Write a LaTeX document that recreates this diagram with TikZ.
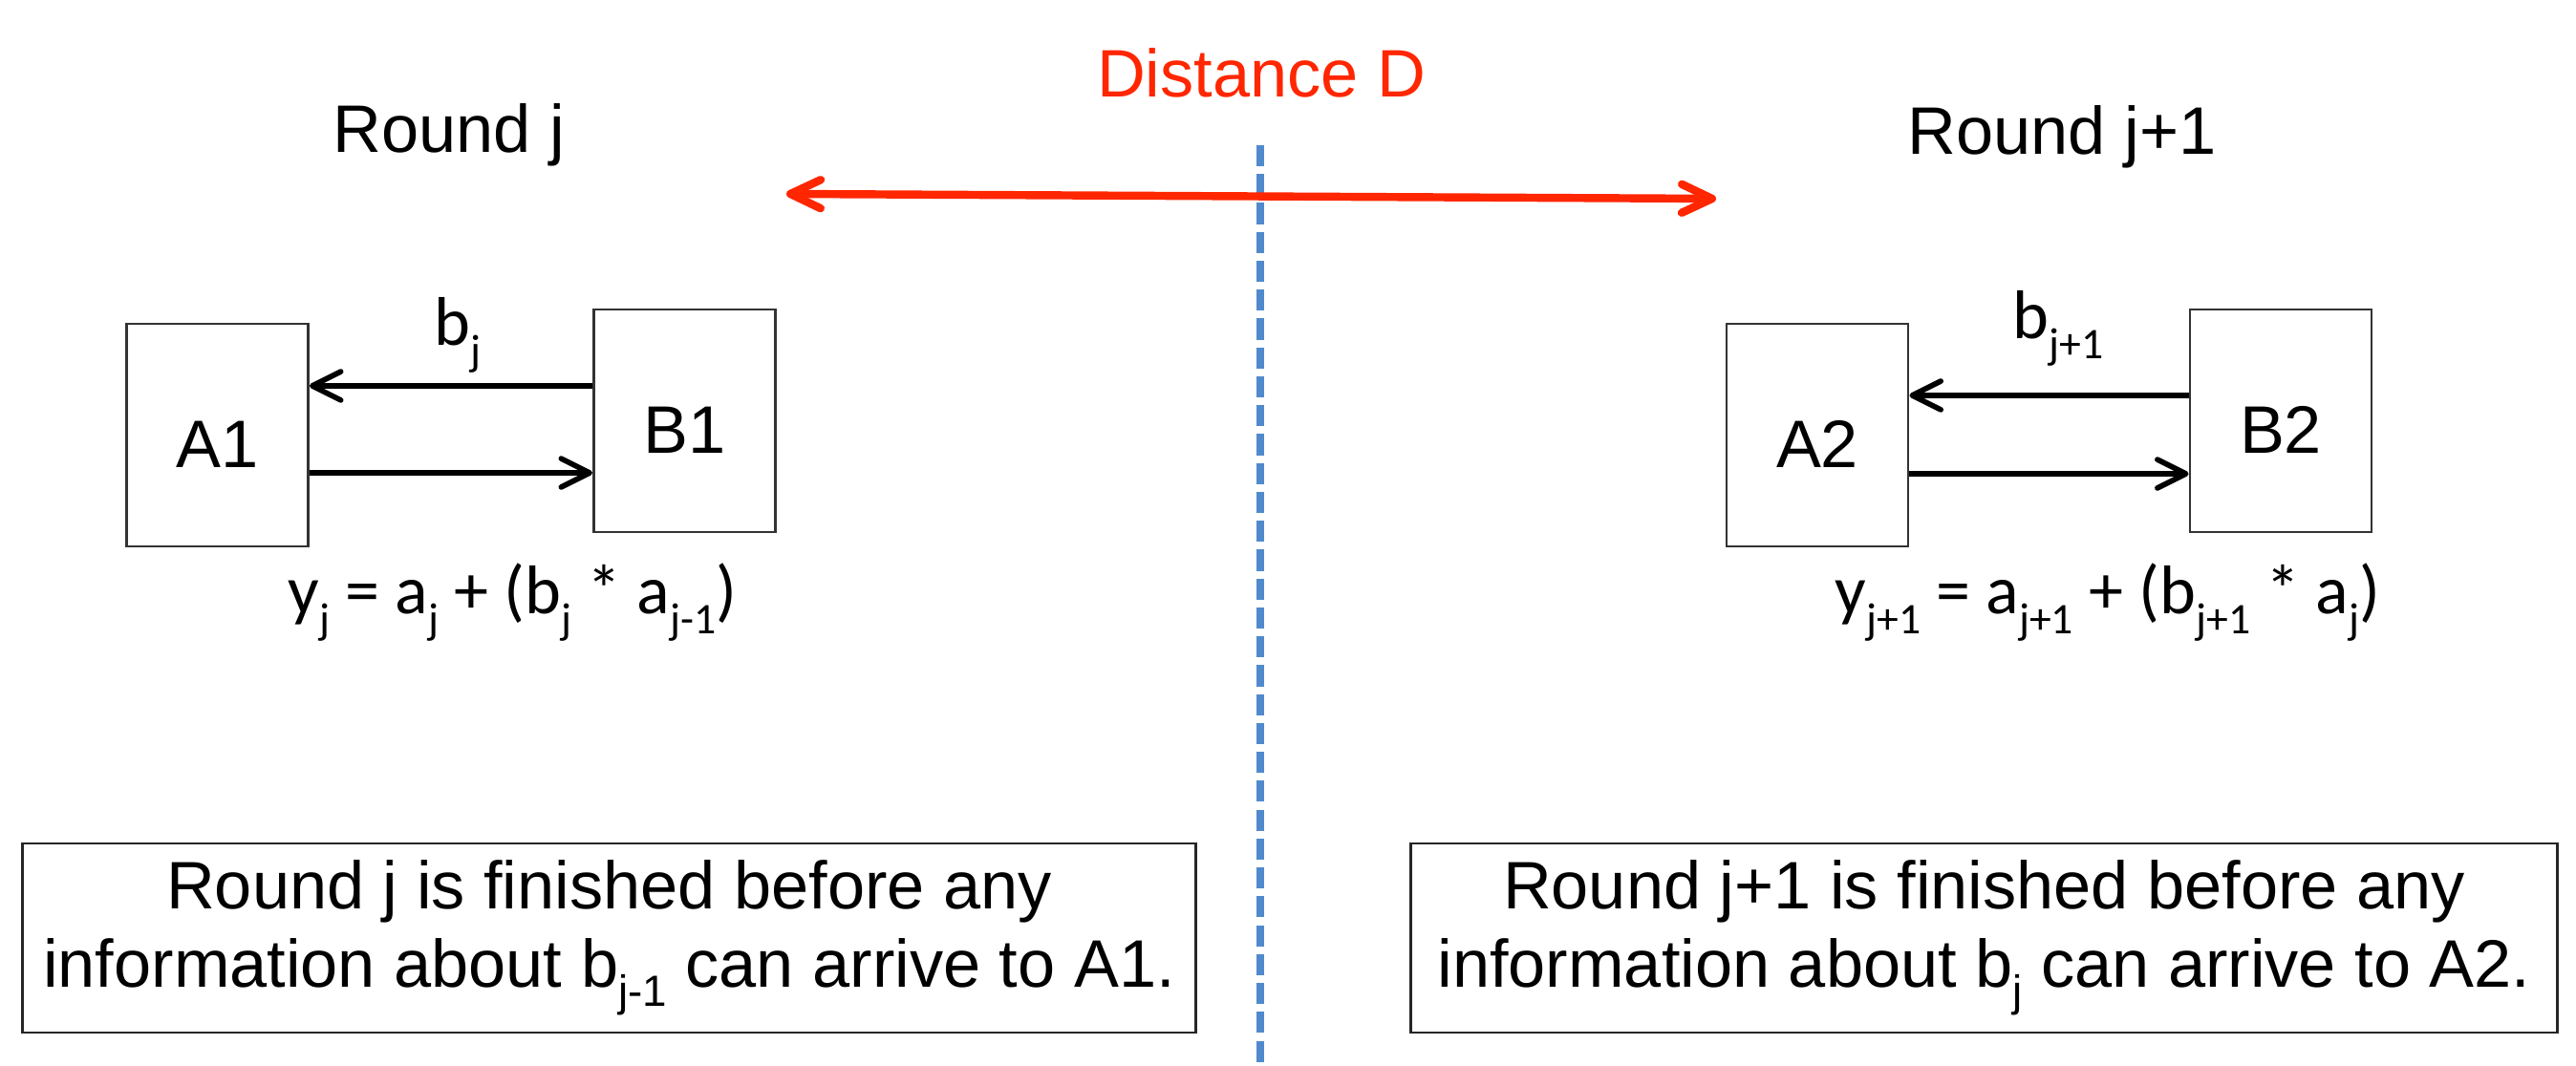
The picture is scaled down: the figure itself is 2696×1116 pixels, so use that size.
\documentclass[tikz,border=0pt]{standalone}
\usepackage{fontspec}
\setmainfont{Liberation Sans}
\newfontfamily\calib{Carlito}
\usepackage{tikz}
\usetikzlibrary{arrows.meta}
\usetikzlibrary{positioning}
\definecolor{distred}{RGB}{255,38,0}
\definecolor{divblue}{RGB}{80,138,205}
\newcommand{\sbs}[1]{\raisebox{-0.28em}{\fontsize{13}{13}\selectfont #1}}

\begin{document}
\begin{tikzpicture}[x=0.01cm, y=-0.01cm,
    every node/.style={font=\fontsize{20}{23.3}\selectfont, inner sep=0pt},
    eqn/.style={font=\calib\fontsize{20.5}{24}\selectfont},
    agent/.style={draw=black!80, line width=0.8pt, fill=white, minimum width=1.9cm, text height=1.5cm, text depth=0.83cm},
    msg/.style={line width=1.6pt, -{Straight Barb[length=8.5pt, width=8.5pt, round]}},
    note/.style={draw=black!85, line width=0.8pt, minimum width=#1, minimum height=1.98cm, align=center}]
        \useasboundingbox (0,0) rectangle (2696,1116);
        \node[text=distred, anchor=base] (dist) at (1320,102) {Distance D};
        \node[anchor=base] (roundL) at (470,160) {Round j};
        \node[anchor=base] (roundR) at (2158,162) {Round j+1};
        \coordinate (divtop) at (1319,152);
        \coordinate (divbot) at (1319,1116);
        \draw[divblue, line width=2pt, dash pattern=on 6.3pt off 2.3pt] (divtop) -- (divbot);
        \coordinate (dleft) at (823,203);
        \coordinate (dright) at (1796,208);
        \draw[distred, line width=2.4pt, {Straight Barb[length=9pt, width=8.5pt, round]}-{Straight Barb[length=9pt, width=8.5pt, round]}] (dleft) -- (dright);
        \node[agent] (A1) at (227.5,455.5) {A1};
        \node[agent] (B1) at (716.5,440.5) {B1};
        \node[agent] (A2) at (1902,455.5) {A2};
        \node[agent] (B2) at (2387,440.5) {B2};
        \coordinate (b1out) at ([yshift=3.65mm]B1.west);
        \draw[msg] (b1out) -- (b1out -| A1.east);
        \coordinate (a1out) at ([yshift=-3.95mm]A1.east);
        \draw[msg] (a1out) -- (a1out -| B1.west);
        \coordinate (b2out) at ([yshift=2.65mm]B2.west);
        \draw[msg] (b2out) -- (b2out -| A2.east);
        \coordinate (a2out) at ([yshift=-4.05mm]A2.east);
        \draw[msg] (a2out) -- (a2out -| B2.west);
        \node[eqn, anchor=base west] (bj) at (454,362) {b\sbs{j}};
        \node[eqn, anchor=base west] (bj1) at (2106,355) {b\sbs{j+1}};
        \node[eqn, anchor=base west] (yj) at (301,643) {y\sbs{j} = a\sbs{j} + (b\sbs{j} * a\sbs{j-1})};
        \node[eqn, anchor=base west] (yj1) at (1920,643) {y\sbs{j+1} = a\sbs{j+1} + (b\sbs{j+1} * a\sbs{j})};
        \node[note=12.27cm] (noteL) at (637.5,982) {Round j is finished before any\\information about b\sbs{j-1} can arrive to A1.};
        \node[note=11.99cm] (noteR) at (2076.5,982) {Round j+1 is finished before any\\information about b\sbs{j} can arrive to A2.};
    \end{tikzpicture}
\end{document}
